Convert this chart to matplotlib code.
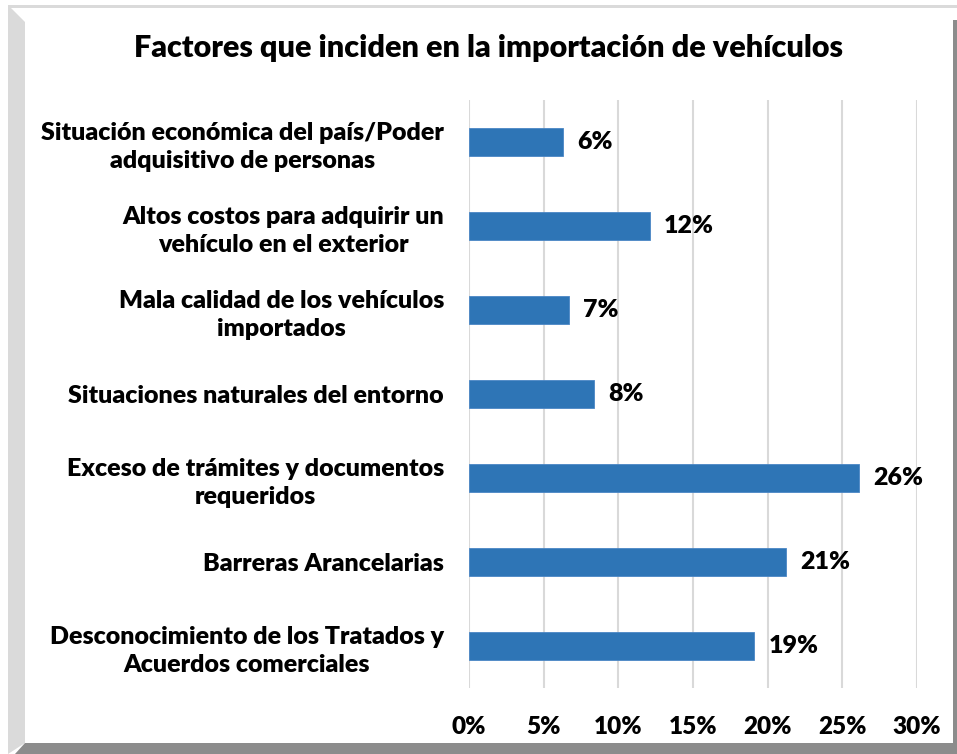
import matplotlib.pyplot as plt
from matplotlib.patches import Polygon

categorias = ["Situación económica del país/Poder\nadquisitivo de personas",
              "Altos costos para adquirir un\nvehículo en el exterior",
              "Mala calidad de los vehículos\nimportados",
              "Situaciones naturales del entorno",
              "Exceso de trámites y documentos\nrequeridos",
              "Barreras Arancelarias",
              "Desconocimiento de los Tratados y\nAcuerdos comerciales"]
valores = [6.3, 12.1, 6.7, 8.4, 26.1, 21.2, 19.1]
etiquetas = ["6%", "12%", "7%", "8%", "26%", "21%", "19%"]
ticks = [0, 5, 10, 15, 20, 25, 30]

plt.rcParams['font.family'] = ['Lato', 'DejaVu Sans']
peso = 'heavy'

W, H = 957, 754
fig = plt.figure(figsize=(W / 100, H / 100), dpi=100)

def px(x, y):
    return (x / W, 1 - y / H)

# marco biselado
fig.patches.append(Polygon([px(8, 5), px(25, 22), px(25, 743), px(8, 754)],
                           closed=True, transform=fig.transFigure,
                           facecolor='#dadada', edgecolor='none'))
fig.patches.append(Polygon([px(8, 5), px(957, 5), px(957, 8), px(8, 8)],
                           closed=True, transform=fig.transFigure,
                           facecolor='#dadada', edgecolor='none'))
fig.patches.append(Polygon([px(25, 743), px(957, 743), px(957, 754), px(15, 754)],
                           closed=True, transform=fig.transFigure,
                           facecolor='#8c8c8c', edgecolor='none'))
fig.patches.append(Polygon([px(953, 20), px(957, 20), px(957, 743), px(953, 743)],
                           closed=True, transform=fig.transFigure,
                           facecolor='#8c8c8c', edgecolor='none'))

ax = fig.add_axes([469 / W, 1 - 688 / H, (917 - 469) / W, (688 - 100) / H])
y = list(range(len(categorias)))
ax.barh(y, valores, height=0.33, color='#2e75b6', edgecolor='#4a86c5', linewidth=0.6, zorder=3)
for yi, v, t in zip(y, valores, etiquetas):
    ax.text(v + 0.95, yi, t, va='center', ha='left', fontsize=18, fontweight=peso)

ax.set_xlim(0, 30)
ax.set_ylim(len(categorias) - 0.5, -0.5)
ax.set_xticks(ticks)
ax.set_xticklabels([f"{t}%" for t in ticks], fontsize=17.5, fontweight=peso)
ax.set_yticks(y)
ax.set_yticklabels(categorias, fontsize=18, fontweight=peso, multialignment='center',
                   linespacing=1.35)
ax.tick_params(axis='x', length=0, pad=20)
ax.tick_params(axis='y', length=0, pad=18)
ax.grid(axis='x', color='#d9d9d9', linewidth=1.5, zorder=0)
for s in ax.spines.values():
    s.set_visible(False)

fig.text(489 / W, 1 - 48 / H, "Factores que inciden en la importación de vehículos",
         ha='center', va='center', fontsize=22, fontweight=peso)

plt.savefig("out.png", dpi=100)
